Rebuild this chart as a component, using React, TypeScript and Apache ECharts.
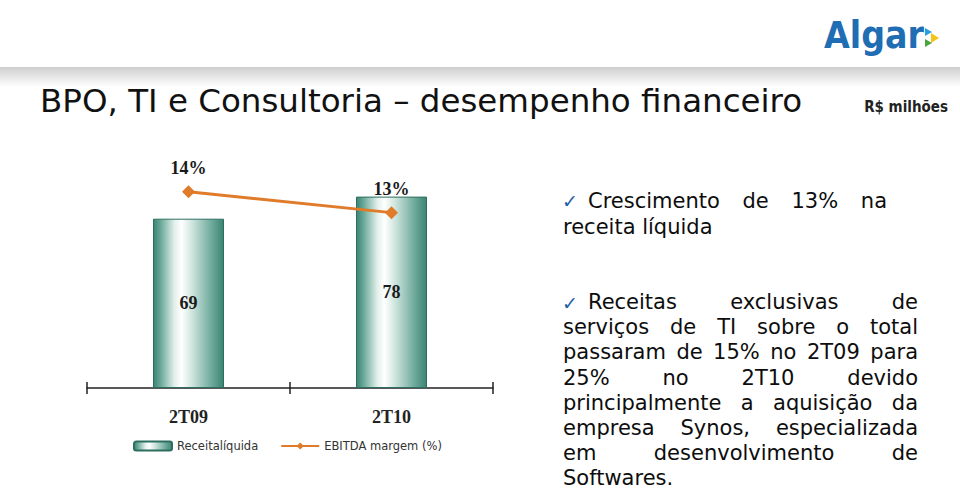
import React, { useEffect, useRef } from 'react';
import * as echarts from 'echarts';

const categories = ['2T09', '2T10'];
const receitaLiquida = [69, 78];
const ebitdaMargem = [14, 13];
const seriesNames = ['Receitalíquida', 'EBITDA margem (%)'];
const titleText = 'BPO, TI e Consultoria – desempenho financeiro';
const unitText = 'R$ milhões';
const logoText = 'Algar';
const bullet1 = ['Crescimento de 13% na', 'receita líquida'];
const bullet2 = [
  'Receitas exclusivas de',
  'serviços de TI sobre o total',
  'passaram de 15% no 2T09 para',
  '25% no 2T10 devido',
  'principalmente a aquisição da',
  'empresa Synos, especializada',
  'em desenvolvimento de',
  'Softwares.',
];

const BODY_FONT = '21px "DejaVu Sans"';

function measure(text: string, font: string): number {
  const c = document.createElement('canvas');
  const ctx = c.getContext('2d')!;
  ctx.font = font;
  return ctx.measureText(text).width;
}

function paragraph(lines: string[], x0: number, firstX: number, x1: number, y0: number, lh: number): any[] {
  const out: any[] = [];
  lines.forEach((line, i) => {
    const y = y0 + i * lh;
    const start = i === 0 ? firstX : x0;
    const last = i === lines.length - 1;
    const words = line.split(' ');
    const st = { font: BODY_FONT, fill: '#0d0d0d', verticalAlign: 'middle', lineHeight: 21 };
    if (last || words.length < 2) {
      out.push({ type: 'text', x: start, y, style: { ...st, text: line } });
      return;
    }
    const widths = words.map((w) => measure(w, BODY_FONT));
    const total = widths.reduce((a, b) => a + b, 0);
    const gap = (x1 - start - total) / (words.length - 1);
    let x = start;
    words.forEach((w, k) => {
      out.push({ type: 'text', x, y, style: { ...st, text: w } });
      x += widths[k] + gap;
    });
  });
  return out;
}

export default function App() {
  const ref = useRef<HTMLDivElement>(null);
  useEffect(() => {
    if (!ref.current) return;
    const chart = echarts.init(ref.current, undefined, { renderer: 'svg' });
    const barGradient = new echarts.graphic.LinearGradient(0, 0, 1, 0, [
      { offset: 0, color: '#3b8473' },
      { offset: 0.1, color: '#69a898' },
      { offset: 0.3, color: '#e3f0ec' },
      { offset: 0.4, color: '#ffffff' },
      { offset: 0.55, color: '#cfe5de' },
      { offset: 0.8, color: '#78b0a2' },
      { offset: 1, color: '#3b8473' },
    ]);
    const serif = '"Liberation Serif", serif';
    const graphics: any[] = [
      {
        type: 'rect',
        shape: { x: 0, y: 67, width: 960, height: 20 },
        style: {
          fill: new echarts.graphic.LinearGradient(0, 0, 0, 1, [
            { offset: 0, color: '#cfcfcf' },
            { offset: 1, color: '#ffffff' },
          ]),
        },
        silent: true,
      },
      {
        type: 'text', x: 40, y: 101,
        style: { text: titleText, font: '32.5px "DejaVu Sans"', fill: '#111', verticalAlign: 'middle' },
      },
      {
        type: 'text', x: 948, y: 107,
        style: { text: unitText, font: 'bold 15px "DejaVu Sans Condensed", "DejaVu Sans"', fill: '#222', align: 'right', verticalAlign: 'middle' },
      },
      {
        type: 'text', x: 824, y: 35,
        style: { text: logoText, font: 'bold 37px "DejaVu Sans Condensed", "DejaVu Sans"', fill: '#1f6db3', verticalAlign: 'middle' },
      },
      { type: 'polygon', shape: { points: [[925, 28], [932, 32], [925, 36]] }, style: { fill: '#2a9fd8' } },
      { type: 'polygon', shape: { points: [[931, 33], [939, 38], [931, 43]] }, style: { fill: '#f2c318' } },
      { type: 'polygon', shape: { points: [[925, 39], [932, 43], [925, 47]] }, style: { fill: '#4aa63c' } },
      { type: 'text', x: 562, y: 201, style: { text: '✓', font: 'bold 19px "DejaVu Sans"', fill: '#1f5fa8', verticalAlign: 'middle' } },
      { type: 'text', x: 562, y: 303, style: { text: '✓', font: 'bold 19px "DejaVu Sans"', fill: '#1f5fa8', verticalAlign: 'middle' } },
      ...paragraph(bullet1, 563, 588, 887, 200.5, 26),
      ...paragraph(bullet2, 563, 588, 918, 302, 25.2),
    ];

    chart.setOption({
      animation: false,
      backgroundColor: '#ffffff',
      grid: { left: 87, right: 467, top: 150, bottom: 105 },
      legend: {
        left: 128, top: 435, itemWidth: 38, itemHeight: 9, itemGap: 22,
        data: seriesNames,
        textStyle: { fontFamily: '"DejaVu Sans"', fontSize: 11.5, color: '#333' },
      },
      xAxis: [
        {
          type: 'category', data: categories, position: 'bottom', offset: 0,
          axisLine: { lineStyle: { color: '#222', width: 1.5 } },
          axisTick: { show: true, length: 6, lineStyle: { color: '#222', width: 1.5 } },
          axisLabel: { margin: 20, fontFamily: serif, fontWeight: 'bold', fontSize: 18, color: '#222' },
        },
        {
          type: 'category', data: categories, position: 'bottom', offset: 0,
          axisLine: { show: false },
          axisTick: { show: true, inside: true, length: 6, lineStyle: { color: '#222', width: 1.5 } },
          axisLabel: { show: false },
        },
      ],
      yAxis: [
        { type: 'value', min: 0, max: 97, show: false, splitLine: { show: false } },
        { type: 'value', min: 4.6, max: 16, show: false, splitLine: { show: false } },
      ],
      series: [
        {
          name: seriesNames[0], type: 'bar', data: receitaLiquida, barWidth: 71,
          itemStyle: { color: barGradient, borderColor: '#2e6e60', borderWidth: 1 },
          label: { show: true, position: 'inside', fontFamily: serif, fontWeight: 'bold', fontSize: 18, color: '#1a1a1a' },
        },
        {
          name: seriesNames[1], type: 'line', yAxisIndex: 1, data: ebitdaMargem,
          symbol: 'diamond', symbolSize: 13,
          itemStyle: { color: '#e07b2a' },
          lineStyle: { color: '#e07b2a', width: 3 },
          label: { show: true, position: 'top', distance: 8, formatter: '{c}%', fontFamily: serif, fontWeight: 'bold', fontSize: 18, color: '#1a1a1a' },
        },
      ],
      graphic: graphics,
    });
    return () => chart.dispose();
  }, []);
  return <div ref={ref} style={{ position: 'absolute', left: 0, top: 0, width: 960, height: 493, background: '#fff' }} />;
}
